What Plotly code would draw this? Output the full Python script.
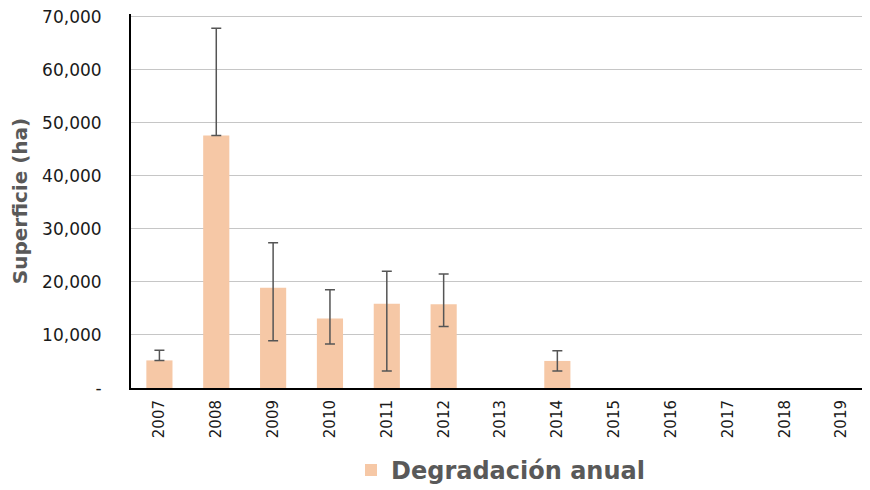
import plotly.graph_objects as go

years = ["2007", "2008", "2009", "2010", "2011", "2012", "2013",
         "2014", "2015", "2016", "2017", "2018", "2019"]
degradacion = [5200, 47600, 18900, 13100, 15900, 15800, None,
               5100, None, None, None, None, None]
err_plus = [1900, 20200, 8500, 5400, 6100, 5700, None,
            1900, None, None, None, None, None]
err_minus = [0, 0, 10000, 4800, 12700, 4200, None,
             1900, None, None, None, None, None]

y_ticks = [0, 10000, 20000, 30000, 40000, 50000, 60000, 70000]
y_labels = ["-", "10,000", "20,000", "30,000", "40,000", "50,000", "60,000", "70,000"]

FONT = "DejaVu Sans, sans-serif"
BAR = "#F6C8A6"
GREY = "#595959"

fig = go.Figure(go.Bar(
    x=years, y=degradacion,
    name="Degradación anual",
    marker=dict(color=BAR, line=dict(width=0)),
    error_y=dict(
        type="data", symmetric=False,
        array=err_plus, arrayminus=err_minus,
        color="#555555", thickness=1.5, width=5,
    ),
))

# the page body keeps its default 8px margin, so the figure is sized to fit the window
fig.update_layout(
    width=862, height=482,
    paper_bgcolor="white", plot_bgcolor="white",
    font=dict(family=FONT, color="#1a1a1a"),
    margin=dict(l=123, r=0, t=6, b=102, autoexpand=False),
    bargap=0.54,
    showlegend=True,
    legend=dict(
        orientation="h", x=0.5, xanchor="center", y=-0.16, yanchor="top",
        font=dict(size=24, color=GREY, family=FONT, weight="bold"),
        bgcolor="rgba(0,0,0,0)",
    ),
    xaxis=dict(
        type="category", tickangle=-90, showgrid=False, automargin=False,
        tickfont=dict(size=15, color="#1a1a1a"),
        showline=True, linecolor="black", linewidth=2,
        ticks="", ticklen=0, ticklabelstandoff=4,
    ),
    yaxis=dict(
        range=[0, 70500], tickvals=y_ticks, ticktext=y_labels, automargin=False,
        ticklabeloverflow="allow",
        tickfont=dict(size=17, color="#1a1a1a"),
        showgrid=True, gridcolor="#c6c6c6", gridwidth=1,
        showline=True, linecolor="black", linewidth=2,
        zeroline=False, ticks="", ticklabelstandoff=24,
        title=dict(text="Superficie (ha)", standoff=13,
                   font=dict(size=20, color=GREY, weight="bold")),
    ),
)

fig.write_html("out.html")
